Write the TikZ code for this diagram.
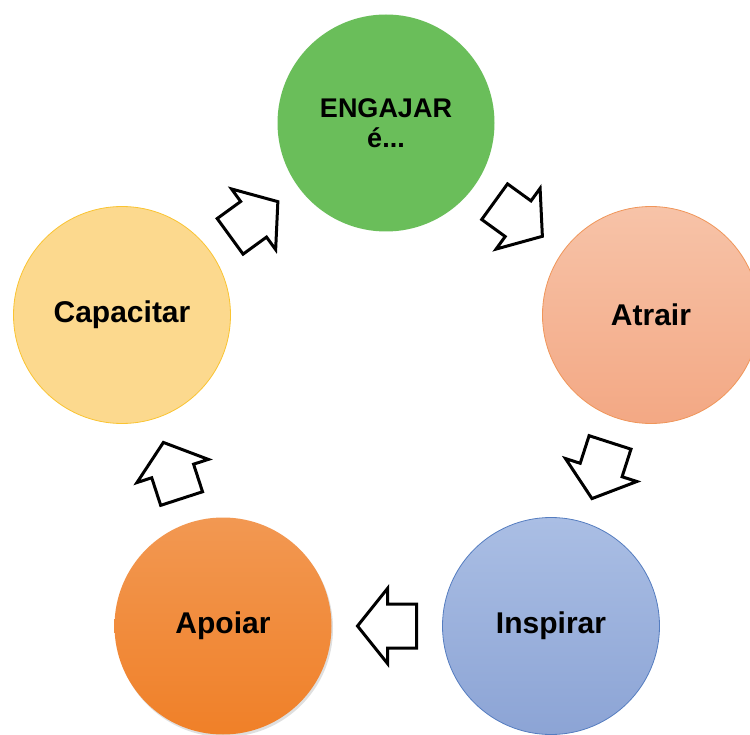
\documentclass[tikz,border=0pt]{standalone}
\usepackage{fontspec}
\setmainfont{Liberation Sans}
\usetikzlibrary{calc,shadows}
\definecolor{engfill}{RGB}{106,190,90}
\definecolor{atrtop}{RGB}{247,195,168}
\definecolor{atrbot}{RGB}{243,168,132}
\definecolor{atrline}{RGB}{240,150,90}
\definecolor{instop}{RGB}{170,190,228}
\definecolor{insbot}{RGB}{140,164,213}
\definecolor{insline}{RGB}{85,125,192}
\definecolor{apotop}{RGB}{242,152,82}
\definecolor{apobot}{RGB}{240,128,40}
\definecolor{capfill}{RGB}{252,217,142}
\definecolor{capline}{RGB}{250,196,50}
\tikzset{
  bubble/.style={circle, minimum size=217pt, inner sep=0pt, text=black,
    font=\bfseries\fontsize{30}{34}\selectfont, line width=0.8pt},
  blockarrow/.pic={
    \draw[line width=3pt, line join=miter, fill=white]
      (29.5pt,0pt) -- (-0.5pt,37.5pt) -- (-0.5pt,22pt) -- (-29.5pt,22pt)
      -- (-29.5pt,-22pt) -- (-0.5pt,-22pt) -- (-0.5pt,-37.5pt) -- cycle;
  }
}
\begin{document}
\begin{tikzpicture}[x=1pt,y=-1pt]
\useasboundingbox (0,0) rectangle (750,735);
\clip (0,0) rectangle (750,735);
\fill[white] (0,0) rectangle (750,735);
\node[bubble, fill=engfill, align=center, font=\bfseries\fontsize{27}{30}\selectfont] (eng) at (386,123) {ENGAJAR\\é...};
\node[bubble, top color=atrtop, bottom color=atrbot, draw=atrline] (atr) at (651,315) {Atrair};
\node[bubble, top color=instop, bottom color=insbot, draw=insline] (ins) at (551,626) {Inspirar};
\node[bubble, top color=apotop, bottom color=apobot,
      drop shadow={opacity=0.25, shadow xshift=1.5pt, shadow yshift=-2.5pt}] (apo) at (223,626) {Apoiar};
\node[bubble, fill=capfill, draw=capline] (cap) at (122,315) {Capacitar};
\foreach \a/\b in {cap/eng, eng/atr, atr/ins, ins/apo, apo/cap}{
  \path let \p1=($(\b)-(\a)$), \n1={atan2(\y1,\x1)} in
    ($(\a)!0.5!(\b)$) pic[rotate=\n1] {blockarrow};
}
\end{tikzpicture}
\end{document}
